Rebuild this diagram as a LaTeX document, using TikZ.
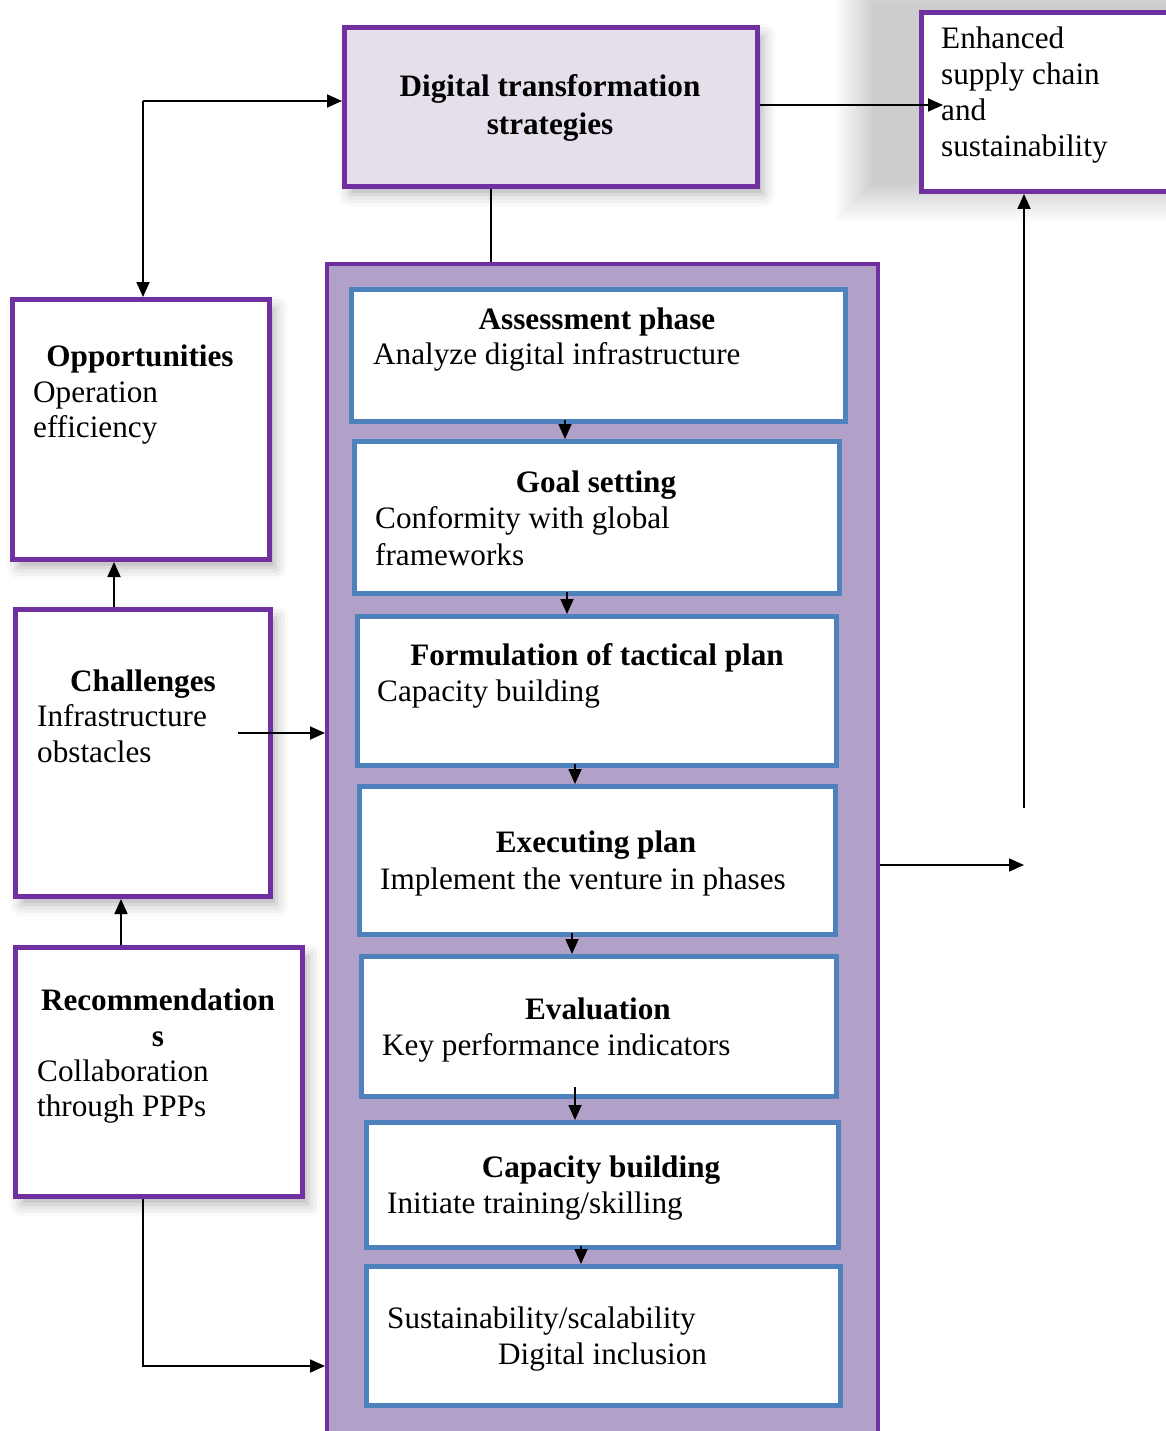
\documentclass[tikz,border=0pt]{standalone}
\usepackage{fontspec}
\setmainfont{Liberation Serif}
\usetikzlibrary{arrows.meta,shadows.blur,calc}
\definecolor{pur}{HTML}{7030A0}
\definecolor{lav}{HTML}{E5DFEC}
\definecolor{contc}{HTML}{B1A0C7}
\definecolor{blu}{HTML}{4F81BD}
\begin{document}
\begin{tikzpicture}[x=1pt,y=-1pt,
 pbox/.style={draw=pur,line width=5pt,fill=white,inner sep=0pt,anchor=north west},
 bbox/.style={draw=blu,line width=5pt,fill=white,inner sep=0pt,anchor=north west},
 shad/.style={blur shadow={shadow xshift=6pt,shadow yshift=-8pt,shadow blur radius=12pt,shadow opacity=30}},
 txt/.style={inner sep=0pt,anchor=base west,font=\fontsize{31.2}{36}\selectfont},
 ttl/.style={inner sep=0pt,anchor=base,font=\fontsize{31.2}{36}\selectfont\bfseries},
 arr/.style={line width=1.8pt,-{Triangle[length=15pt,width=13pt]}},
 ln/.style={line width=1.8pt}]
\useasboundingbox (0,0) rectangle (1166,1431);
\clip (0,0) rectangle (1166,1431);
% soft shadow behind the result box
\foreach \i in {0,...,24}{
  \fill[black,opacity=0.008] (835+1.6*\i,-35+1.6*\i) rectangle (1200,222-1.6*\i);
}
% outer boxes
\node[pbox,fill=lav,minimum width=413,minimum height=159,shad] (dts) at (342,25) {};
\node[pbox,minimum width=262,minimum height=179] (enh) at (919,10) {};
\node[pbox,minimum width=257,minimum height=260,shad] (opp) at (10,297) {};
\node[pbox,minimum width=255,minimum height=287,shad] (cha) at (13,607) {};
\node[pbox,minimum width=287,minimum height=249,shad] (rec) at (13,945) {};
\node[draw=pur,fill=contc,line width=4pt,inner sep=0pt,anchor=north west,minimum width=551,minimum height=1190] (cont) at (325,262) {};
% inner boxes
\node[bbox,minimum width=494,minimum height=132] (b1) at (349,287) {};
\node[bbox,minimum width=485,minimum height=152] (b2) at (352,439) {};
\node[bbox,minimum width=479,minimum height=149] (b3) at (355,614) {};
\node[bbox,minimum width=476,minimum height=148] (b4) at (357,784) {};
\node[bbox,minimum width=475,minimum height=140] (b5) at (359,954) {};
\node[bbox,minimum width=472,minimum height=125] (b6) at (364,1120) {};
\node[bbox,minimum width=474,minimum height=139] (b7) at (364,1264) {};
% texts
\node[ttl] (t1) at (550,97) {Digital transformation};
\node[ttl] (t2) at (550,135) {strategies};
\node[txt] (e1) at (941,49) {Enhanced};
\node[txt] (e2) at (941,85) {supply chain};
\node[txt] (e3) at (941,121) {and};
\node[txt] (e4) at (941,157) {sustainability};
\node[ttl] (o1) at (140,366) {Opportunities};
\node[txt] (o2) at (33,402) {Operation};
\node[txt] (o3) at (33,437) {efficiency};
\node[ttl] (c1) at (143,691) {Challenges};
\node[txt] (c2) at (37,726) {Infrastructure};
\node[txt] (c3) at (37,762) {obstacles};
\node[ttl] (r1) at (158,1010) {Recommendation};
\node[ttl] (r2) at (158,1046) {s};
\node[txt] (r3) at (37,1081) {Collaboration};
\node[txt] (r4) at (37,1116) {through PPPs};
\node[ttl] (a1) at (597,329) {Assessment phase};
\node[txt] (a2) at (373,364) {Analyze digital infrastructure};
\node[ttl] (g1) at (596,492) {Goal setting};
\node[txt] (g2) at (375,528) {Conformity with global};
\node[txt] (g3) at (375,565) {frameworks};
\node[ttl] (f1) at (597,665) {Formulation of tactical plan};
\node[txt] (f2) at (377,701) {Capacity building};
\node[ttl] (x1) at (596,852) {Executing plan};
\node[txt] (x2) at (380,889) {Implement the venture in phases};
\node[ttl] (v1) at (598,1019) {Evaluation};
\node[txt] (v2) at (382,1055) {Key performance indicators};
\node[ttl] (k1) at (601,1177) {Capacity building};
\node[txt] (k2) at (387,1213) {Initiate training/skilling};
\node[txt] (s1) at (387,1328) {Sustainability/scalability};
\node[txt] (s2) at (498,1364) {Digital inclusion};
% helper coordinates
\coordinate (enhin) at (943,105);
\coordinate (tl) at (143,101);
\coordinate (x114) at (114,0);
\coordinate (x121) at (121,0);
\coordinate (x143) at (143,0);
\coordinate (x491) at (491,0);
\coordinate (cs) at (238,733);
\coordinate (y1366) at (0,1366);
\coordinate (re) at (1024,865);
\coordinate (rs) at (1024,808);
\coordinate (i1) at (565,0);
\coordinate (i2) at (567,0);
\coordinate (i3) at (575,0);
\coordinate (i4) at (572,0);
\coordinate (i5) at (575,0);
\coordinate (i6) at (581,0);
% connectors
\draw[arr] (dts.east |- enhin) -- (enhin);
\draw[arr] (tl) -- (dts.west |- tl);
\draw[arr] (tl) -- (tl |- opp.north);
\draw[ln] (dts.south -| x491) -- (cont.north -| x491);
\draw[arr] (cha.north -| x114) -- (opp.south -| x114);
\draw[arr] (rec.north -| x121) -- (cha.south -| x121);
\draw[arr] (cs) -- (cont.west |- cs);
\draw[arr] (rec.south -| x143) |- (cont.west |- y1366);
\draw[arr] (cont.east |- re) -- (re);
\draw[arr] (rs) -- (enh.south -| rs);
\draw[arr] ($(b1.south -| i1)+(0,-4)$) -- (b2.north -| i1);
\draw[arr] ($(b2.south -| i2)+(0,-4)$) -- (b3.north -| i2);
\draw[arr] ($(b3.south -| i3)+(0,-4)$) -- (b4.north -| i3);
\draw[arr] ($(b4.south -| i4)+(0,-4)$) -- (b5.north -| i4);
\draw[arr] ($(b5.south -| i5)+(0,-12)$) -- (b6.north -| i5);
\draw[arr] ($(b6.south -| i6)+(0,-4)$) -- (b7.north -| i6);
\end{tikzpicture}
\end{document}
